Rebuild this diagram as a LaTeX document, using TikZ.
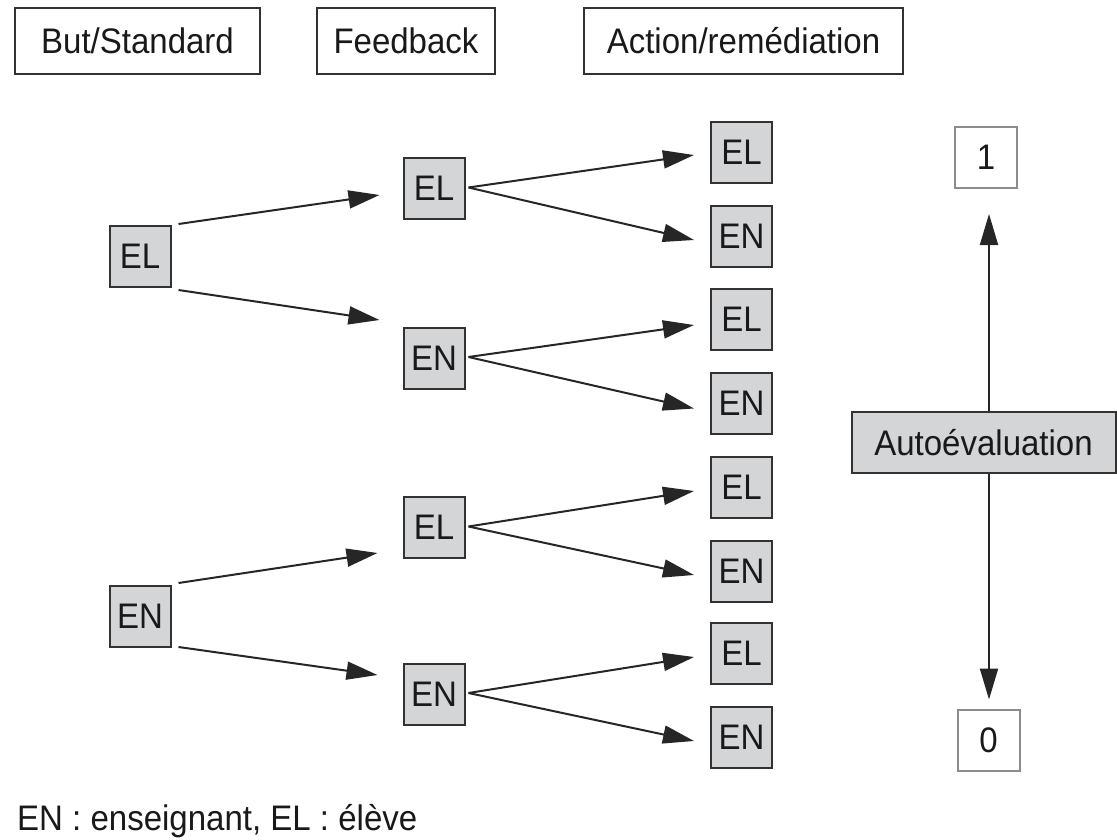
\documentclass[tikz,border=0pt]{standalone}
\usepackage{fontspec}
\setmainfont{Liberation Sans}[FakeStretch=0.93]
\usetikzlibrary{arrows.meta,calc}
\definecolor{boxgray}{RGB}{212,213,215}
\definecolor{edgecol}{RGB}{50,50,50}
\definecolor{lightedge}{RGB}{140,140,140}
\begin{document}
\begin{tikzpicture}[x=1pt,y=1pt,
  every node/.style={font=\fontsize{35.5}{40}\selectfont, inner sep=0pt, text=black!90},
  hdr/.style={draw=edgecol, line width=2.5pt, minimum height=66pt},
  agent/.style={draw=edgecol, fill=boxgray, line width=2pt, minimum width=61pt, minimum height=61pt},
  valbox/.style={draw=lightedge, line width=2pt, minimum width=62pt, minimum height=61pt},
  arr/.style={line width=2pt, draw=black!85, -{Triangle[length=31pt,width=18pt]}}]
\useasboundingbox (0,0) rectangle (1117,-840);

% headers
\node[hdr, minimum width=245pt] (hb) at (137.5,-41) {But/Standard};
\node[hdr, minimum width=178pt] (hf) at (406,-41) {Feedback};
\node[hdr, minimum width=319pt] (ha) at (743.5,-41) {Action/remédiation};

% level 0
\node[agent] (a1) at (140,-256.5) {EL};
\node[agent] (a2) at (140,-616.5) {EN};

% level 1
\node[agent] (b1) at (434,-188.5) {EL};
\node[agent] (b2) at (434,-358) {EN};
\node[agent] (b3) at (434,-527.5) {EL};
\node[agent] (b4) at (434,-694) {EN};

% level 2
\node[agent] (c1) at (741.5,-152.5) {EL};
\node[agent] (c2) at (741.5,-236.5) {EN};
\node[agent] (c3) at (741.5,-319) {EL};
\node[agent] (c4) at (741.5,-403.5) {EN};
\node[agent] (c5) at (741.5,-487) {EL};
\node[agent] (c6) at (741.5,-571) {EN};
\node[agent] (c7) at (741.5,-653) {EL};
\node[agent] (c8) at (741.5,-737) {EN};

% level 0 -> level 1
\draw[arr] ($(a1.east)+(7,32.5)$) -- ($(b1.west)+(-23,-6.5)$);
\draw[arr] ($(a1.east)+(7,-33.5)$) -- ($(b2.west)+(-23,38)$);
\draw[arr] ($(a2.east)+(7,33.5)$) -- ($(b3.west)+(-25,-25.5)$);
\draw[arr] ($(a2.east)+(7,-30.5)$) -- ($(b4.west)+(-25,19)$);

% level 1 -> level 2
\draw[arr] ($(b1.east)+(3,1)$) -- ($(c1.west)+(-16,-2.5)$);
\draw[arr] ($(b1.east)+(3,1)$) -- ($(c2.west)+(-16,-3.5)$);
\draw[arr] ($(b2.east)+(3,1)$) -- ($(c3.west)+(-16,-6)$);
\draw[arr] ($(b2.east)+(3,1)$) -- ($(c4.west)+(-16,-5)$);
\draw[arr] ($(b3.east)+(3,1)$) -- ($(c5.west)+(-16,-4)$);
\draw[arr] ($(b3.east)+(3,1)$) -- ($(c6.west)+(-16,-4)$);
\draw[arr] ($(b4.east)+(3,1)$) -- ($(c7.west)+(-16,-4)$);
\draw[arr] ($(b4.east)+(3,1)$) -- ($(c8.west)+(-16,-4)$);

% self-evaluation scale
\node[valbox] (one) at (986,-157.5) {1};
\node[valbox] (zero) at (988.5,-740) {0};
\node[agent, minimum width=264pt] (auto) at (983.5,-442.5) {Autoévaluation};
\draw[arr] ([xshift=5.5pt]auto.north) -- ([xshift=3pt,yshift=-25pt]one.south);
\draw[arr] ([xshift=5.5pt]auto.south) -- ([xshift=0.5pt,yshift=9pt]zero.north);

% legend
\node[anchor=base west] (legend) at (17,-830) {EN : enseignant, EL : élève};
\end{tikzpicture}
\end{document}
